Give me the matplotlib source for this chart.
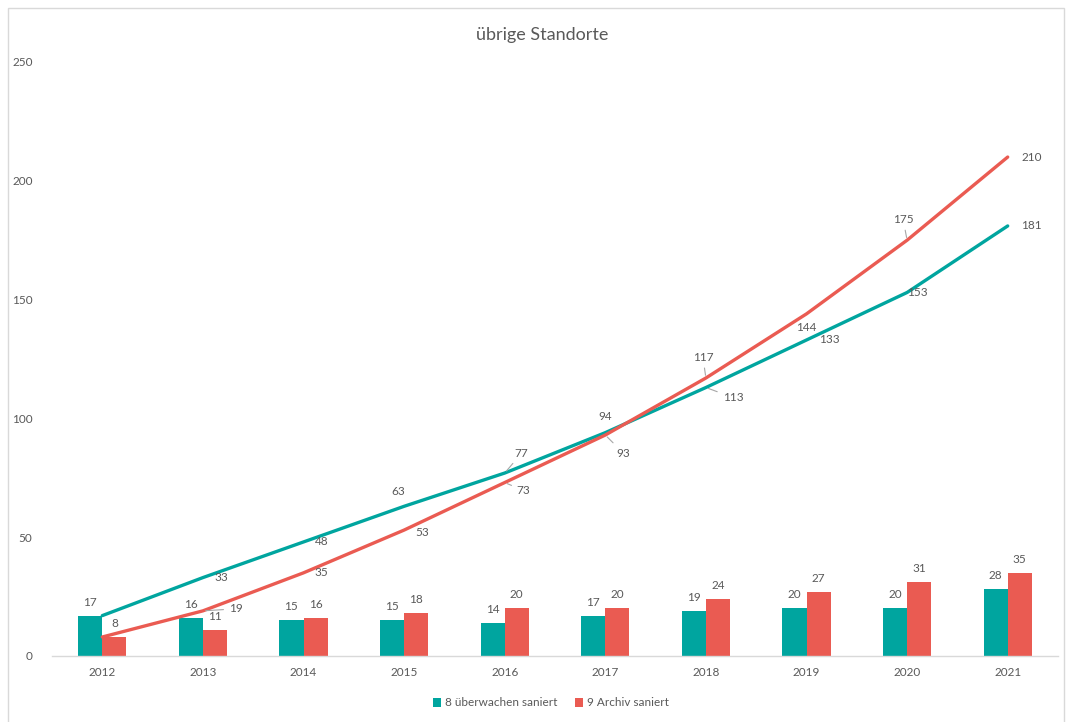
import matplotlib.pyplot as plt
import matplotlib.patches as mpatches
import numpy as np

# Daten
jahre = ['2012', '2013', '2014', '2015', '2016', '2017', '2018', '2019', '2020', '2021']
ueberwachen = [17, 16, 15, 15, 14, 17, 19, 20, 20, 28]
archiv = [8, 11, 16, 18, 20, 20, 24, 27, 31, 35]
ueberwachen_summe = [17, 33, 48, 63, 77, 94, 113, 133, 153, 181]
archiv_summe = [8, 19, 35, 53, 73, 93, 117, 144, 175, 210]

teal = '#00A59F'
rot = '#EA5B52'
grau = '#595959'
fs = 8.5

plt.rcParams['font.family'] = ['Lato', 'DejaVu Sans']

fig = plt.figure(figsize=(10.7, 7.22), dpi=100)
ax = fig.add_axes([52/1070, 1-656/722, (1058-52)/1070, (656-62)/722])

x = np.arange(len(jahre))
b = 0.24
ax.bar(x - b/2, ueberwachen, b, color=teal, label='8 überwachen saniert')
ax.bar(x + b/2, archiv, b, color=rot, label='9 Archiv saniert')
ax.plot(x, ueberwachen_summe, color=teal, lw=2.4, solid_capstyle='round')
ax.plot(x, archiv_summe, color=rot, lw=2.4, solid_capstyle='round')

# Balkenbeschriftung
for i in range(len(jahre)):
    ax.annotate(str(ueberwachen[i]), (x[i] - b/2, ueberwachen[i]), xytext=(0, 8),
                textcoords='offset pixels', ha='center', va='bottom', fontsize=fs, color=grau)
    ax.annotate(str(archiv[i]), (x[i] + b/2, archiv[i]), xytext=(0, 8),
                textcoords='offset pixels', ha='center', va='bottom', fontsize=fs, color=grau)

# Linienbeschriftung (Versatz in Pixel, Führungslinie ja/nein)
teal_off = [None, (18, 0, 0), (18, 0, 0), (-6, 15, 0), (17, 20, 1), (0, 16, 0),
            (27, -10, 1), (23, 0, 0), (10, 0, 0), (24, 0, 0)]
rot_off = [None, (33, 2, 1), (18, 0, 0), (18, -2, 0), (19, -8, 1), (18, -18, 1),
           (-3, 21, 1), (0, -14, 0), (-4, 21, 1), (24, 0, 0)]
for werte, offs in [(ueberwachen_summe, teal_off), (archiv_summe, rot_off)]:
    for i, o in enumerate(offs):
        if o is None:
            continue
        dx, dy, pfeil = o
        ap = dict(arrowstyle='-', color='#A6A6A6', lw=0.8, shrinkA=2, shrinkB=2) if pfeil else None
        ax.annotate(str(werte[i]), (x[i], werte[i]), xytext=(dx, dy),
                    textcoords='offset pixels', ha='center', va='center',
                    fontsize=fs, color=grau, arrowprops=ap)

ax.set_xlim(-0.5, len(jahre) - 0.5)
ax.set_ylim(0, 250)
ax.set_yticks([0, 50, 100, 150, 200, 250])
ax.set_xticks(x)
ax.set_xticklabels(jahre)
ax.tick_params(axis='both', length=0, labelsize=fs, colors=grau)
ax.tick_params(axis='y', pad=14)
ax.tick_params(axis='x', pad=8)
for s in ['top', 'right', 'left']:
    ax.spines[s].set_visible(False)
ax.spines['bottom'].set_color('#D9D9D9')
ax.spines['bottom'].set_linewidth(1)

fig.text(542/1070, 1-35/722, 'übrige Standorte', ha='center', va='center', fontsize=13, color=grau)

fig.legend(loc='center', bbox_to_anchor=(551/1070, 1-703/722), ncol=2, frameon=False,
           fontsize=fs, labelcolor=grau, handlelength=0.7, handleheight=0.7,
           handletextpad=0.3, columnspacing=1.5)

rahmen = mpatches.Rectangle((8/1070, -0.05), (1064-8)/1070, 1.05 - 8/722,
                            transform=fig.transFigure, fill=False, edgecolor='#D9D9D9',
                            lw=1, clip_on=False)
fig.patches.append(rahmen)

fig.savefig('out.png', dpi=100)
